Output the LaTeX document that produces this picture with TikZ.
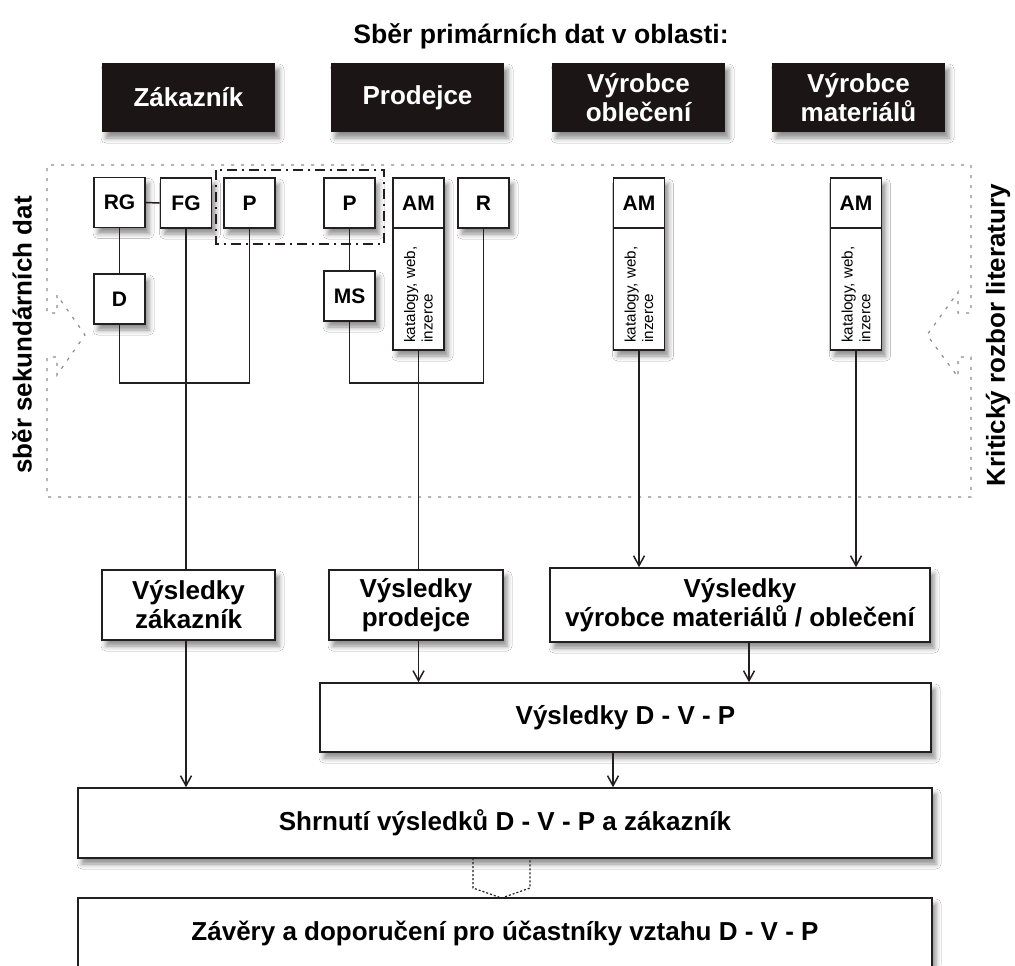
\documentclass[tikz,border=0pt]{standalone}
\usepackage{fontspec}
\setmainfont{Liberation Sans}
\usetikzlibrary{arrows.meta,shadows.blur}
\definecolor{ink}{HTML}{231F20}
\definecolor{blk}{HTML}{1B1516}
\definecolor{dotc}{HTML}{8C8C8C}
\begin{document}
\begin{tikzpicture}[x=0.5pt,y=-0.5pt,
  shd/.style={blur shadow={shadow xshift=2pt,shadow yshift=-3pt,shadow blur radius=2.5pt,shadow opacity=45}},
  bigfont/.style={font=\fontsize{13}{14.5}\selectfont\bfseries},
  hdr/.style={fill=blk,text=white,bigfont,align=center,inner sep=0pt,minimum width=86.5pt,minimum height=34.5pt,shd},
  sboxns/.style={draw=ink,line width=0.8pt,fill=white,inner sep=0pt,minimum width=25.5pt,minimum height=25pt,font=\fontsize{10.5}{12}\selectfont\bfseries},
  sbox/.style={sboxns,shd},
  ext/.style={draw=ink,line width=0.8pt,fill=white,inner sep=0pt,minimum width=25.5pt,minimum height=86pt,shd},
  rbox/.style={draw=ink,line width=0.8pt,fill=white,bigfont,align=center,inner sep=0pt,shd},
  conn/.style={draw=ink,line width=0.75pt},
  arr/.style={conn,-{Straight Barb[length=5pt,width=5.5pt]}},
  outerdot/.style={draw=dotc,line width=0.6pt,dash pattern=on 1.5pt off 3.5pt},
  dashdot/.style={draw=ink,line width=0.8pt,dash pattern=on 5pt off 2.5pt on 1pt off 2.5pt},
  botdot/.style={draw=ink,line width=0.6pt,dash pattern=on 1pt off 1pt},
  side/.style={bigfont,rotate=90},
  small/.style={font=\fontsize{7.6}{8.8}\selectfont,rotate=90,anchor=west,align=left,inner sep=0pt}
]
\clip (0,0) rectangle (1015,965);
\fill[white] (0,0) rectangle (1015,965);

% title
\node[font=\fontsize{13.3}{15}\selectfont\bfseries] (title) at (541,36) {Sběr primárních dat v oblasti:};

% header boxes
\node[hdr] (hz) at (188.5,97.5) {Zákazník};
\node[hdr] (hp) at (417.5,97.5) {Prodejce};
\node[hdr] (hvo) at (638.5,97.5) {Výrobce\\oblečení};
\node[hdr] (hvm) at (858.5,97.5) {Výrobce\\materiálů};

% outer dotted frame with arrow shapes
\draw[outerdot] (57,295) -- (57,313) -- (47,313) -- (47,165) -- (971,165) -- (971,313)
  -- (958,313) -- (958,292) -- (927,335) -- (958,377) -- (958,357) -- (971,357)
  -- (971,497) -- (47,497) -- (47,357) -- (57,357) -- (57,375) -- (85,335) -- cycle;

% side labels
\node[side] (sl) at (22,335) {sběr sekundárních dat};
\node[side] (sr) at (998,335) {Kritický rozbor literatury};

% small boxes
\node[sbox] (RG) at (119.5,202.5) {RG};
\node[sbox] (FG) at (186,203) {FG};
\node[sbox] (P1) at (249.5,203) {P};
\node[sbox] (P2) at (349.5,203) {P};
\node[sbox] (R) at (483.5,203) {R};
\node[sbox] (D) at (119.5,299) {D};
\node[sbox] (MS) at (349.5,296) {MS};

\node[ext] (AM1b) at (418.5,264) {};
\node[sboxns] (AM1) at (418.5,203) {AM};
\node[small] (k1) at (418.5,343) {katalogy, web,\\inzerce};

\node[ext] (AM2b) at (639,264) {};
\node[sboxns] (AM2) at (639,203) {AM};
\node[small] (k2) at (639,343) {katalogy, web,\\inzerce};

\node[ext] (AM3b) at (856,264) {};
\node[sboxns] (AM3) at (856,203) {AM};
\node[small] (k3) at (856,343) {katalogy, web,\\inzerce};

% dash-dot group
\draw[dashdot] ([shift={(-7,-7)}]P1.north west) rectangle ([shift={(8,15)}]P2.south east);

% top connectors
\coordinate (jl) at (0,383);
\draw[conn] (RG.east) -- (FG.west);
\draw[conn] (RG.south) -- (D.north);
\draw[conn] (D.south) |- (P1.south |- jl) -- (P1.south);
\draw[conn] (P2.south) -- (MS.north);
\draw[conn] (MS.south) |- (R.south |- jl) -- (R.south);

% result boxes
\node[rbox,minimum width=86.5pt,minimum height=35pt] (vz) at (188.5,605) {Výsledky\\zákazník};
\node[rbox,minimum width=87pt,minimum height=35pt] (vp) at (416,605) {Výsledky\\prodejce};
\node[rbox,minimum width=190pt,minimum height=37pt] (vv) at (740,605) {Výsledky\\výrobce materiálů / oblečení};
\node[rbox,minimum width=305.5pt,minimum height=34.5pt] (dvp) at (625.5,717.5) {Výsledky D - V - P};
\node[rbox,minimum width=427pt,minimum height=35pt] (sh) at (505,823) {Shrnutí výsledků D - V - P a zákazník};
\node[rbox,minimum width=427pt,minimum height=35pt] (zv) at (505,933) {Závěry a doporučení pro účastníky vztahu D - V - P};

% lower connectors
\draw[conn] (FG.south) -- (FG.south |- vz.north);
\draw[arr] (FG.south |- vz.south) -- (FG.south |- sh.north);
\draw[conn] (AM1b.south) -- (AM1b.south |- vp.north);
\draw[arr] (AM1b.south |- vp.south) -- (AM1b.south |- dvp.north);
\draw[arr] (AM2b.south) -- (AM2b.south |- vv.north);
\draw[arr] (AM3b.south) -- (AM3b.south |- vv.north);
\coordinate (xv) at (749,0);
\draw[arr] (vv.south -| xv) -- (dvp.north -| xv);
\coordinate (xd) at (613,0);
\draw[arr] (dvp.south -| xd) -- (sh.north -| xd);

% dotted hand-over between summary and conclusions
\draw[botdot] (473,858) -- (473,888) -- (501.5,898) -- (530,888) -- (530,858);
\end{tikzpicture}
\end{document}
